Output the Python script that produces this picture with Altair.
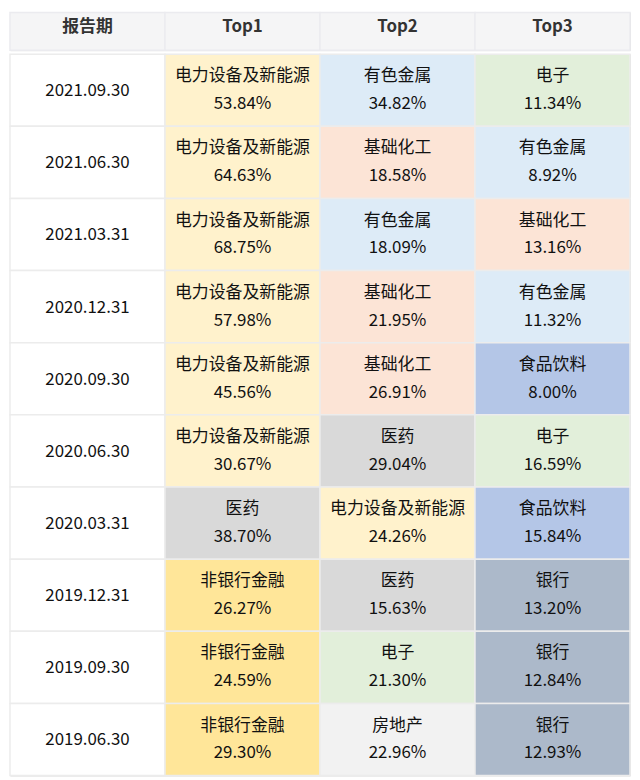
import altair as alt
import pandas as pd

dates = ["2021.09.30", "2021.06.30", "2021.03.31", "2020.12.31", "2020.09.30",
         "2020.06.30", "2020.03.31", "2019.12.31", "2019.09.30", "2019.06.30"]
top1_names = ["电力设备及新能源", "电力设备及新能源", "电力设备及新能源", "电力设备及新能源", "电力设备及新能源",
              "电力设备及新能源", "医药", "非银行金融", "非银行金融", "非银行金融"]
top1_vals = [53.84, 64.63, 68.75, 57.98, 45.56, 30.67, 38.70, 26.27, 24.59, 29.30]
top2_names = ["有色金属", "基础化工", "有色金属", "基础化工", "基础化工",
              "医药", "电力设备及新能源", "医药", "电子", "房地产"]
top2_vals = [34.82, 18.58, 18.09, 21.95, 26.91, 29.04, 24.26, 15.63, 21.30, 22.96]
top3_names = ["电子", "有色金属", "基础化工", "有色金属", "食品饮料",
              "电子", "食品饮料", "银行", "银行", "银行"]
top3_vals = [11.34, 8.92, 13.16, 11.32, 8.00, 16.59, 15.84, 13.20, 12.84, 12.93]

headers = ["报告期", "Top1", "Top2", "Top3"]
industries = ["电力设备及新能源", "有色金属", "电子", "基础化工", "食品饮料",
              "医药", "非银行金融", "银行", "房地产", "__date__"]
fills = ["#fff2cc", "#ddebf7", "#e2efda", "#fce4d6", "#b4c6e7",
         "#d9d9d9", "#ffe699", "#acb9ca", "#f2f2f2", "#ffffff"]

recs = []
for i, d in enumerate(dates):
    recs.append(dict(row=d, col="报告期", name="__date__", label=d, pct=""))
    for col, names, vals in (("Top1", top1_names, top1_vals),
                             ("Top2", top2_names, top2_vals),
                             ("Top3", top3_names, top3_vals)):
        recs.append(dict(row=d, col=col, name=names[i], label=names[i],
                         pct=f"{vals[i]:.2f}%"))
df = pd.DataFrame(recs)
hdf = pd.DataFrame({"col": headers})

W = 624
FONT = "Noto Sans CJK SC"

xs = alt.X("col:N", sort=headers, axis=None,
           scale=alt.Scale(paddingInner=0, paddingOuter=0))
ys = alt.Y("row:N", sort=dates, axis=None,
           scale=alt.Scale(paddingInner=0, paddingOuter=0))

base = alt.Chart(df).encode(x=xs, y=ys)
cells = base.mark_rect(stroke="#ececec", strokeWidth=1.5).encode(
    color=alt.Color("name:N", scale=alt.Scale(domain=industries, range=fills), legend=None)
)
date_txt = base.transform_filter(alt.datum.col == "报告期").mark_text(
    font=FONT, fontSize=17, color="#111111", dy=1
).encode(text="label:N")
name_txt = base.transform_filter(alt.datum.col != "报告期").mark_text(
    font=FONT, fontSize=17, color="#111111", dy=-14
).encode(text="label:N")
pct_txt = base.transform_filter(alt.datum.col != "报告期").mark_text(
    font=FONT, fontSize=17, color="#111111", dy=14
).encode(text="pct:N")
body = alt.layer(cells, date_txt, name_txt, pct_txt).properties(width=W, height=726)

hbase = alt.Chart(hdf).encode(x=xs)
hcells = hbase.mark_rect(color="#f5f5f6", stroke="#ebebef", strokeWidth=1.5)
htxt = hbase.mark_text(font=FONT, fontSize=17, fontWeight="bold", color="#333333",
                       dy=-4).encode(text="col:N")
header = alt.layer(hcells, htxt).properties(width=W, height=38)

chart = alt.vconcat(header, body, spacing=0).properties(
    padding={"left": 0, "top": 0, "right": 0, "bottom": 0}
).configure_view(stroke=None).configure(background="#ffffff")

chart.save("out.html", embed_options={"renderer": "svg", "actions": False})
